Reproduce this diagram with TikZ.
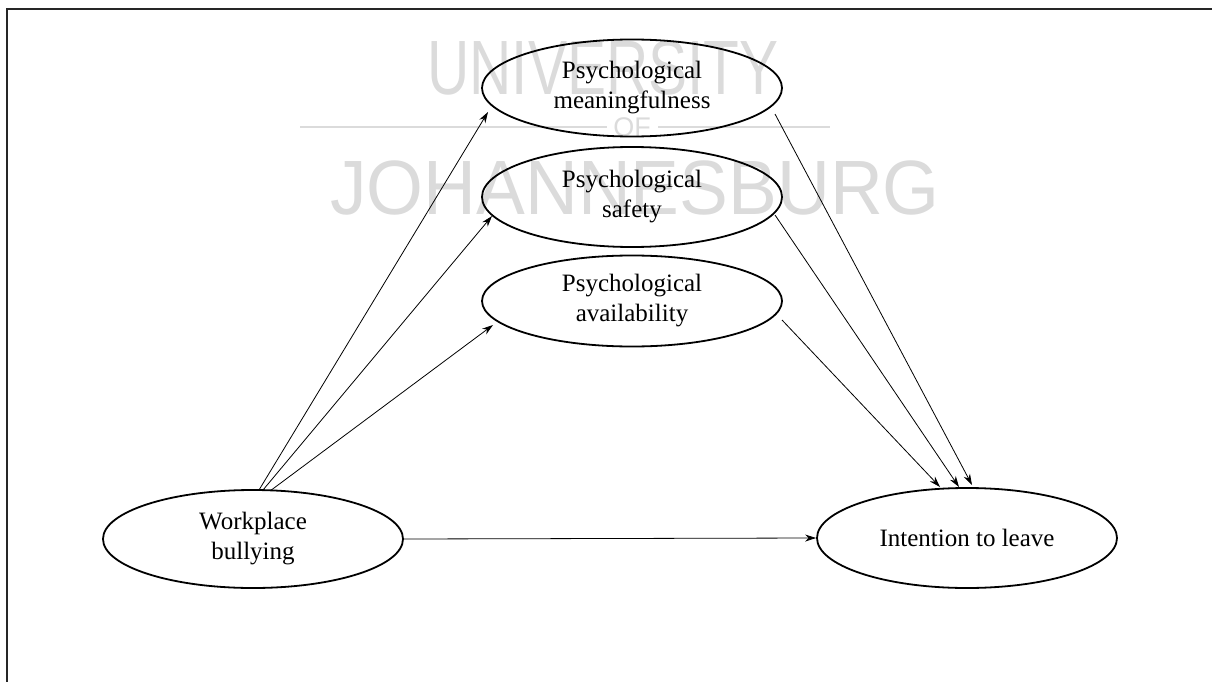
\documentclass[tikz,border=0pt]{standalone}
\usepackage{fontspec}
\setmainfont{Liberation Serif}
\newfontfamily\wmfont{Liberation Sans}
\usetikzlibrary{shapes.geometric,arrows.meta,calc}
\begin{document}
\begin{tikzpicture}[x=1pt,y=-1pt,
  construct/.style={draw,line width=1.8pt,ellipse,minimum width=300pt,inner sep=0pt,
    align=center,font=\fontsize{25}{30}\selectfont},
  link/.style={line width=0.8pt,-{Stealth[length=11pt,width=7pt]}},
  wm/.style={text=black!14,font=\wmfont\fontsize{77}{80}\selectfont,inner sep=0pt}]
\useasboundingbox (0,0) rectangle (1212,682);
% watermark
\node[wm,xscale=0.76] (wmu) at (603,68) {UNIVERSITY};
\node[wm,font=\wmfont\fontsize{27}{28}\selectfont] (wmo) at (632,127) {OF};
\node[wm,xscale=0.95] (wmj) at (635,188) {JOHANNESBURG};
\draw[black!14,line width=2pt] (300,127) -- (607,127) (658,127) -- (830,127);
% frame
\draw[line width=2.2pt,black!85] (1212,9) -- (7,9) -- (7,682);
% nodes
\node[construct,minimum height=97pt] (m) at (632,88) {Psychological\\meaningfulness};
\node[construct,minimum height=100pt] (s) at (632,197) {Psychological\\safety};
\node[construct,minimum height=91pt] (a) at (632,301) {Psychological\\availability};
\node[construct,minimum height=98pt] (wb) at (253,539) {Workplace\\bullying};
\node[construct,minimum height=100pt] (il) at (967,538) {Intention to leave};
% connectors
\draw[link] ($(wb)+(6,-49)$) -- ($(m)+(-144,24)$);
\draw[link] ($(wb)+(10,-49)$) -- ($(s)+(-140,19)$);
\draw[link] ($(wb)+(17,-48)$) -- ($(a)+(-139,24)$);
\draw[link] (wb.east) -- (il.west);
\draw[link] ($(m)+(143,26)$) -- ($(il)+(5,-53)$);
\draw[link] ($(s)+(143,18)$) -- ($(il)+(-8,-51)$);
\draw[link] ($(a)+(150,19)$) -- ($(il)+(-27,-51)$);
\end{tikzpicture}
\end{document}
